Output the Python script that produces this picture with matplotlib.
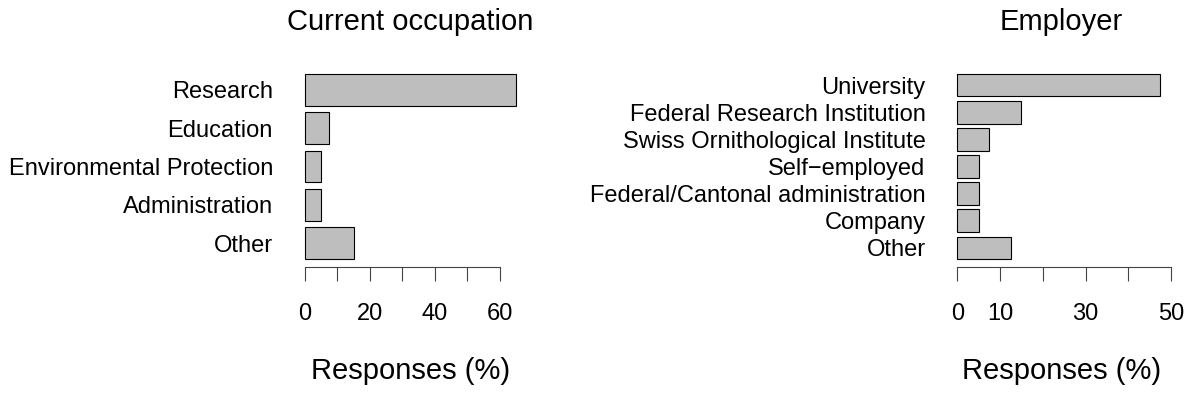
import matplotlib.pyplot as plt
import numpy as np

plt.rcParams['font.family'] = ['Liberation Sans', 'DejaVu Sans']

# Current occupation (top to bottom)
occ_labels = ['Research', 'Education', 'Environmental Protection', 'Administration', 'Other']
occ_values = [65, 7.5, 5, 5, 15]
occ_ticks = [0, 10, 20, 30, 40, 50, 60]
occ_ticklabels = ['0', '', '20', '', '40', '', '60']

# Employer (top to bottom)
emp_labels = ['University', 'Federal Research Institution', 'Swiss Ornithological Institute',
              'Self\u2212employed', 'Federal/Cantonal administration', 'Company', 'Other']
emp_values = [47.5, 15, 7.5, 5, 5, 5, 12.5]
emp_ticks = [0, 10, 20, 30, 40, 50]
emp_ticklabels = ['0', '10', '', '30', '', '50']

W, H = 1192, 412
fig = plt.figure(figsize=(W / 100, H / 100), dpi=100)


def panel(ax, labels, values, ticks, ticklabels, title, xlim):
    n = len(values)
    # R barplot layout: width 1, space 0.2, first bar at the bottom
    ypos = 0.2 + np.arange(n) * 1.2 + 0.5
    ax.barh(ypos[::-1], values, height=1.0, color='#bebebe',
            edgecolor='black', linewidth=0.8)
    span = ypos[-1] + 0.5 - 0.2
    ax.set_ylim(0.2 - span * 0.04, ypos[-1] + 0.5 + span * 0.04)
    ax.set_xlim(*xlim)
    ax.set_yticks(ypos[::-1])
    ax.set_yticklabels(labels, fontsize=17)
    ax.tick_params(axis='y', length=0, pad=17)
    ax.set_xticks(ticks)
    ax.set_xticklabels(ticklabels, fontsize=17)
    ax.tick_params(axis='x', length=10, width=0.8, color='#444444', pad=16)
    for s in ['top', 'right', 'left']:
        ax.spines[s].set_visible(False)
    ax.spines['bottom'].set_bounds(ticks[0], ticks[-1])
    ax.spines['bottom'].set_color('#444444')
    ax.spines['bottom'].set_linewidth(0.8)
    ax.set_title(title, fontsize=21, pad=26)
    ax.set_xlabel('Responses (%)', fontsize=21, labelpad=23)


# axes placed in pixels
bot = (H - 266.5) / H
hgt = 200 / H
ax1 = fig.add_axes([296.5 / W, bot, 228.2 / W, hgt])
panel(ax1, occ_labels, occ_values, occ_ticks, occ_ticklabels, 'Current occupation', (-2.6, 67.6))

ax2 = fig.add_axes([949.2 / W, bot, 224.0 / W, hgt])
panel(ax2, emp_labels, emp_values, emp_ticks, emp_ticklabels, 'Employer', (-1.9, 50.5))

plt.savefig('out.png', dpi=100)
